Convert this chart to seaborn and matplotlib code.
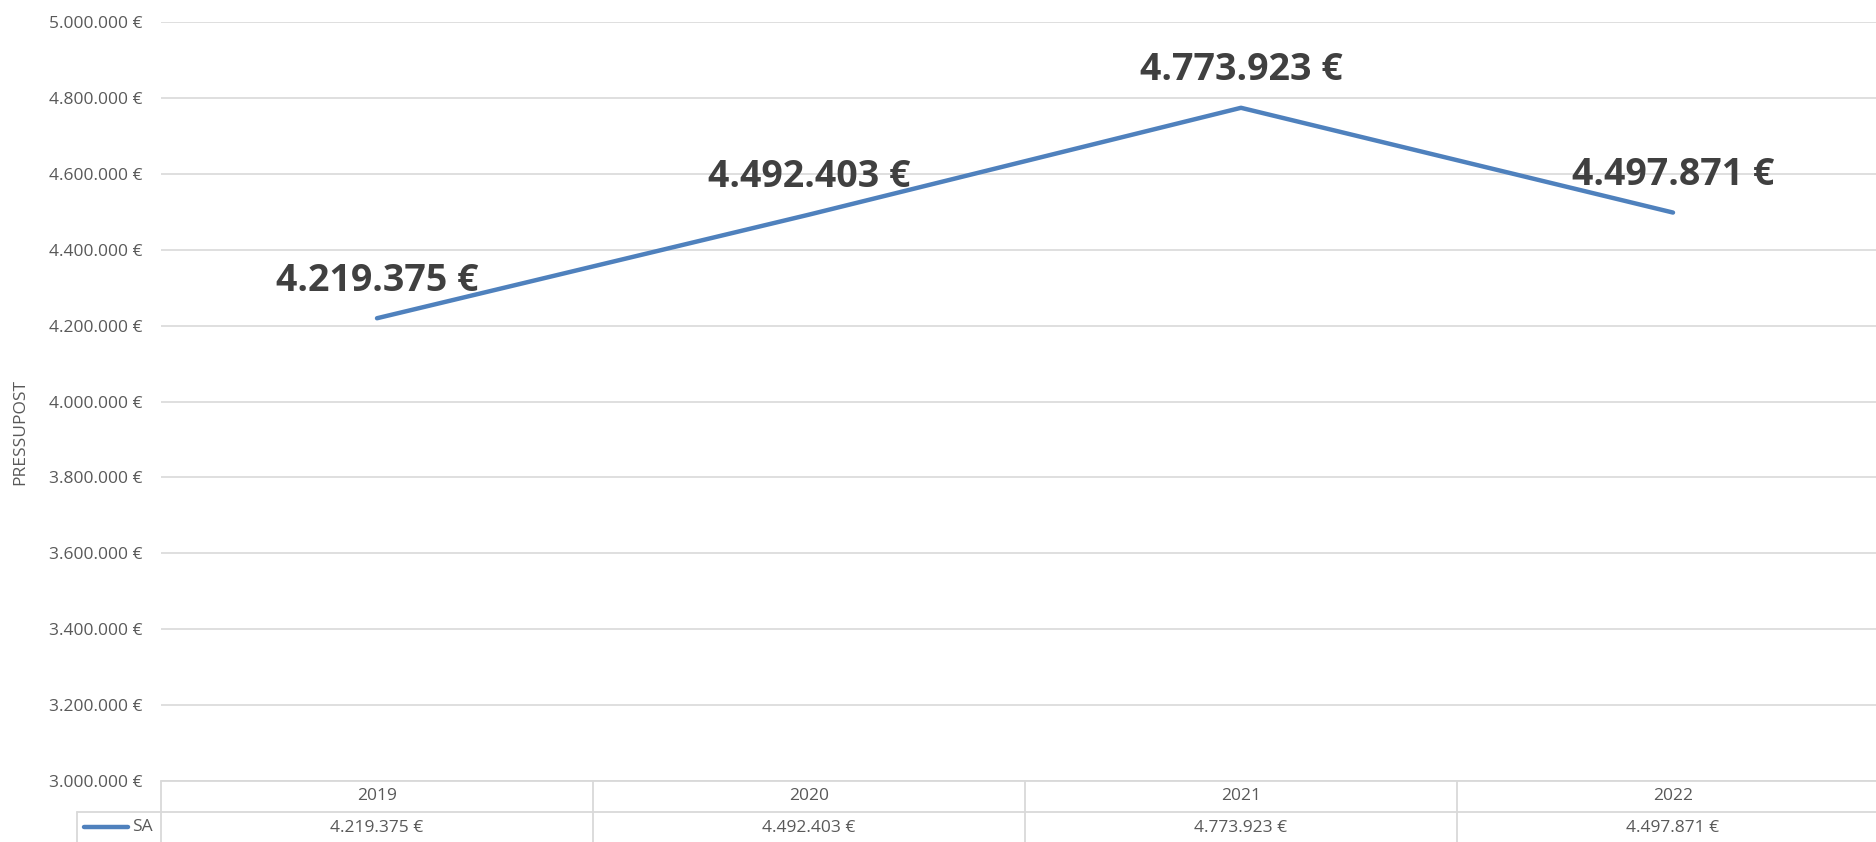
import matplotlib
matplotlib.use("Agg")
import matplotlib.pyplot as plt
import matplotlib.ticker as mticker
import matplotlib.transforms as mtransforms
import seaborn as sns
import pandas as pd

# chart data
years = ["2019", "2020", "2021", "2022"]
budget = [4219375, 4492403, 4773923, 4497871]
series_name = "SA"
y_ticks = [3000000, 3200000, 3400000, 3600000, 3800000, 4000000,
           4200000, 4400000, 4600000, 4800000, 5000000]

LINE_COLOR = "#4f81bd"
TEXT_DARK = "#404040"
TEXT_GREY = "#595959"
GRID = "#d9d9d9"


def euro(v):
    return f"{v:,.0f} €".replace(",", ".")


sns.set_theme(style="white")
plt.rcParams["font.family"] = ["Open Sans", "DejaVu Sans"]

W, H = 1876, 842
fig = plt.figure(figsize=(W / 100, H / 100), dpi=100)
# plot area in pixels: left 161, right 1889 (runs past the edge), top 22, bottom 781
ax = fig.add_axes([161 / W, (H - 781) / H, (1889 - 161) / W, (781 - 22) / H])

df = pd.DataFrame({"pos": range(len(years)), "value": budget})
sns.lineplot(data=df, x="pos", y="value", ax=ax, color=LINE_COLOR,
             linewidth=3.2, solid_capstyle="round")

ax.set_xlim(-0.5, len(years) - 0.5)
ax.set_ylim(y_ticks[0], y_ticks[-1])
ax.set_yticks(y_ticks)
ax.yaxis.set_major_formatter(mticker.FuncFormatter(lambda v, p: euro(v)))
ax.tick_params(axis="y", length=0, pad=13, labelsize=12.5, labelcolor=TEXT_GREY)
ax.set_xticks([])
ax.set_xlabel("")
ax.set_ylabel("")
ax.grid(axis="y", color=GRID, linewidth=1.2)
for s in ax.spines.values():
    s.set_visible(False)

# data labels
for i, v in enumerate(budget):
    ax.annotate(euro(v), (i, v), xytext=(0, 27), textcoords="offset points",
                ha="center", va="center", fontsize=27, fontweight="bold",
                color=TEXT_DARK)

fig.text(20 / W, 1 - 432 / H, "PRESSUPOST", rotation=90, ha="center",
         va="center", fontsize=12.5, color=TEXT_GREY)

# data table under the plot
row_h = 31 / (781 - 22)  # one table row in axes units
trans = mtransforms.blended_transform_factory(ax.transData, ax.transAxes)
line_kw = dict(color=GRID, linewidth=1.3, clip_on=False)

ax.plot([-0.5, len(years) - 0.5], [0, 0], transform=trans, **line_kw)
ax.plot([-0.5, len(years) - 0.5], [-row_h, -row_h], transform=trans, **line_kw)
for k in range(len(years) + 1):
    ax.plot([k - 0.5, k - 0.5], [0, -2 * row_h], transform=trans, **line_kw)

for i, (yr, v) in enumerate(zip(years, budget)):
    ax.text(i, -0.5 * row_h, yr, transform=trans, ha="center", va="center",
            fontsize=12.5, color=TEXT_GREY)
    ax.text(i, -1.5 * row_h, euro(v), transform=trans, ha="center",
            va="center", fontsize=12.5, color=TEXT_GREY)

# legend key cell on the left of the value row
fig.add_artist(plt.Line2D([77 / W, 161 / W], [(H - 812) / H, (H - 812) / H],
                          color=GRID, linewidth=1.3))
fig.add_artist(plt.Line2D([77 / W, 77 / W], [(H - 812) / H, 0],
                          color=GRID, linewidth=1.3))
fig.add_artist(plt.Line2D([84 / W, 128 / W], [(H - 827) / H, (H - 827) / H],
                          color=LINE_COLOR, linewidth=3.2,
                          solid_capstyle="round"))
fig.text(132 / W, (H - 827) / H, series_name, ha="left", va="center",
         fontsize=12.5, color=TEXT_GREY)

fig.savefig("out.png", dpi=100)
